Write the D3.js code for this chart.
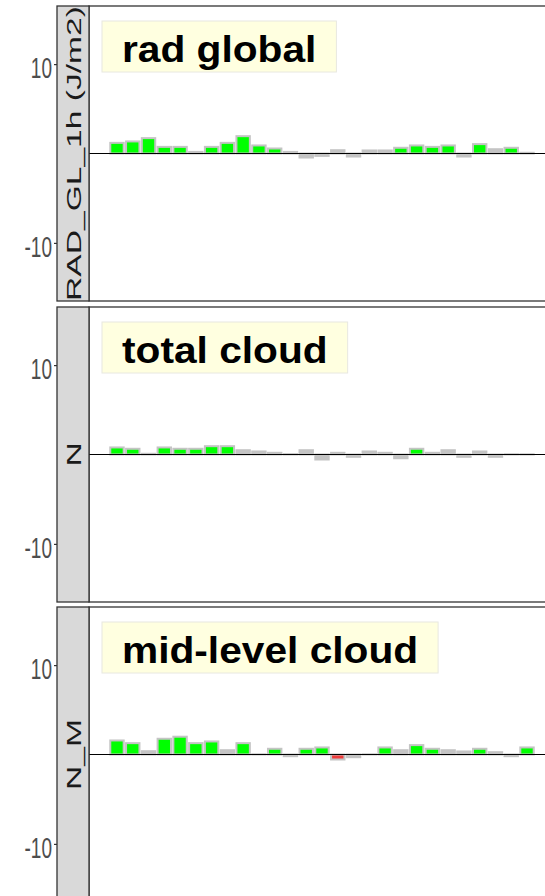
<!DOCTYPE html>
<html><head><meta charset="utf-8">
<script src="https://cdn.jsdelivr.net/npm/d3@7"></script>
<style>body{margin:0;background:#fff}svg{display:block}</style>
</head><body><svg id="c" width="545" height="896"></svg>
<script>
// ---- data ----
const categories = [1,2,3,4,5,6,7,8,9,10,11,12,13,14,15,16,17,18,19,20,21,22,23,24,25,26,27];
const stripLabels = ["RAD_GL_1h (J/m2)", "N", "N_M"];
const panelTitles = ["rad global", "total cloud", "mid-level cloud"];
// values
const radGlobal = [1.19,1.35,1.72,0.74,0.74,0.18,0.74,1.19,1.94,0.90,0.56,0.18,-0.45,-0.27,0.37,-0.34,0.34,0.34,0.64,0.90,0.74,0.90,-0.34,1.05,0.48,0.64,0.08];
const totalCloud = [0.79,0.64,0.08,0.79,0.64,0.64,0.93,0.93,0.48,0.34,0.19,0.04,0.48,-0.56,0.19,-0.26,0.34,0.19,-0.42,0.64,0.19,0.48,-0.26,0.34,-0.26,0.03,0.02];
const midCloud = [1.57,1.27,0.37,1.76,1.99,1.27,1.46,0.48,1.27,0.02,0.64,-0.19,0.64,0.79,-0.56,-0.30,0.02,0.79,0.48,1.05,0.64,0.48,0.34,0.64,0.26,-0.19,0.79];
// significance: 1 = significant positive, -1 = significant negative, 0 = not significant
const radGlobalSig = [1,1,1,1,1,0,1,1,1,1,1,0,0,0,0,0,0,0,1,1,1,1,0,1,0,1,0];
const totalCloudSig = [1,1,0,1,1,1,1,1,0,0,0,0,0,0,0,0,0,0,0,1,0,0,0,0,0,0,0];
const midCloudSig = [1,1,0,1,1,1,1,0,1,0,1,0,1,1,-1,0,0,1,0,1,1,0,0,1,0,0,1];
const yTickValues = [-10, 10];
const yTickLabels = ["-10", "10"];
const yDomain = [-16.5, 16.5];

const seriesValues = [radGlobal, totalCloud, midCloud];
const seriesSig = [radGlobalSig, totalCloudSig, midCloudSig];

// ---- layout ----
const W = 545;
const svg = d3.select("#c");
const stripX = 57, stripW = 32, panelX = 89, panelH = 295;
const tops = [6, 307, 607];
const step = 15.77, x0 = 109.1;
const x = d3.scaleBand().domain(categories).range([x0, x0 + categories.length * step]).padding(0);
const barW = 13.4;
const colorFor = s => s === 1 ? "#00ff00" : (s === -1 ? "#f03c3c" : "#c4c4c4");
const font = "'Liberation Sans', Arial, Helvetica, sans-serif";

seriesValues.forEach((vals, i) => {
  const top = tops[i];
  const y = d3.scaleLinear().domain(yDomain).range([top + panelH, top]);
  const g = svg.append("g");

  g.append("rect")
    .attr("x", panelX).attr("y", top)
    .attr("width", W - panelX + 20).attr("height", panelH)
    .attr("fill", "#fff").attr("stroke", "#333").attr("stroke-width", 1.3);

  const data = categories.map((c, k) => ({c, v: vals[k], s: seriesSig[i][k]}));
  g.append("g").selectAll("rect").data(data).join("rect")
    .attr("x", d => x(d.c) + (x.bandwidth() - barW) / 2)
    .attr("width", barW)
    .attr("y", d => y(Math.max(0, d.v)))
    .attr("height", d => Math.abs(y(d.v) - y(0)))
    .attr("fill", d => colorFor(d.s))
    .attr("stroke", "#c4c4c4")
    .attr("stroke-width", 2);

  g.append("line")
    .attr("x1", panelX).attr("x2", W + 10)
    .attr("y1", y(0)).attr("y2", y(0))
    .attr("stroke", "#000").attr("stroke-width", 1.2);

  // strip
  g.append("rect")
    .attr("x", stripX).attr("y", top)
    .attr("width", stripW).attr("height", panelH)
    .attr("fill", "#d9d9d9").attr("stroke", "#333").attr("stroke-width", 1.3);
  g.append("g")
    .attr("transform", `translate(${stripX + stripW / 2},${top + panelH / 2}) rotate(-90)`)
    .append("text")
    .attr("transform", "scale(1.6,1)")
    .attr("text-anchor", "middle")
    .attr("dy", "0.36em")
    .attr("font-family", font)
    .attr("font-size", 21)
    .attr("fill", "#1a1a1a")
    .text(stripLabels[i]);

  // y axis
  const ax = g.append("g")
    .attr("transform", `translate(${stripX},0)`)
    .call(d3.axisLeft(y).tickValues(yTickValues).tickSize(3).tickPadding(2)
      .tickFormat(d => yTickLabels[yTickValues.indexOf(d)]));
  ax.select(".domain").remove();
  ax.selectAll(".tick line").attr("stroke", "#333").attr("stroke-width", 1.2);
  ax.selectAll(".tick text")
    .attr("font-family", font)
    .attr("font-size", 19)
    .attr("fill", "#4d4d4d")
    .attr("dy", "0.44em")
    .attr("transform", "scale(1,1.58)");

  // title box
  const bx = 102, by = top + 15, bh = 51, pad = 20, sx = 1.1;
  const box = g.append("rect")
    .attr("x", bx).attr("y", by).attr("height", bh)
    .attr("fill", "#ffffe0").attr("stroke", "#e8e8e0").attr("stroke-width", 1);
  const t = g.append("g")
    .attr("transform", `translate(${bx + pad},${by + 41}) scale(${sx},1)`)
    .append("text")
    .attr("font-family", font)
    .attr("font-weight", "bold")
    .attr("font-size", 37)
    .attr("fill", "#000")
    .text(panelTitles[i]);
  const tw = t.node().getComputedTextLength() * sx;
  box.attr("width", tw + 2 * pad);
});
</script>
</body></html>
